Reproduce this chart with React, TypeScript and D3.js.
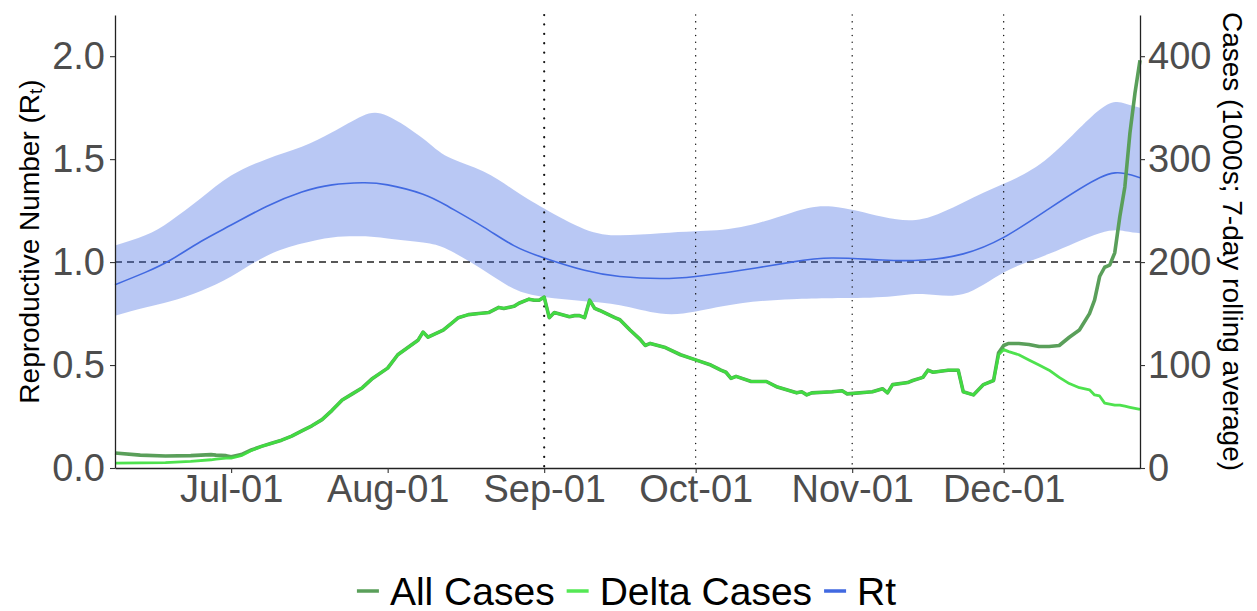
import React, { useEffect, useRef } from "react";
import * as d3 from "d3";

// Rt estimate (mean + credible interval)
const rtDates = ["2021-06-08","2021-06-14","2021-06-19","2021-06-25","2021-07-01","2021-07-08","2021-07-15","2021-07-21","2021-07-27","2021-08-01","2021-08-08","2021-08-13","2021-08-20","2021-08-26","2021-09-01","2021-09-09","2021-09-16","2021-09-24","2021-10-01","2021-10-10","2021-10-20","2021-10-28","2021-11-07","2021-11-15","2021-11-23","2021-12-01","2021-12-10","2021-12-20","2021-12-25","2021-12-28"];
const rtMean = [0.89,0.95,1.01,1.1,1.18,1.27,1.34,1.375,1.385,1.375,1.33,1.27,1.17,1.08,1.02,0.96,0.93,0.92,0.93,0.96,1.0,1.02,1.01,1.01,1.04,1.12,1.26,1.41,1.43,1.41];
const rtLower = [0.74,0.78,0.81,0.86,0.93,1.03,1.09,1.12,1.125,1.115,1.095,1.06,0.96,0.87,0.83,0.81,0.79,0.75,0.76,0.8,0.82,0.825,0.83,0.845,0.845,0.95,1.04,1.14,1.15,1.14];
const rtUpper = [1.08,1.13,1.2,1.31,1.42,1.5,1.56,1.63,1.71,1.71,1.6,1.51,1.44,1.35,1.26,1.16,1.13,1.14,1.15,1.17,1.24,1.27,1.22,1.21,1.29,1.38,1.51,1.74,1.77,1.75];

// cases, 1000s, 7-day rolling average
const caseDates = ["2021-06-08","2021-06-13","2021-06-18","2021-06-23","2021-06-27","2021-06-28","2021-06-30","2021-07-01","2021-07-03","2021-07-05","2021-07-07","2021-07-09","2021-07-11","2021-07-13","2021-07-15","2021-07-17","2021-07-19","2021-07-21","2021-07-23","2021-07-25","2021-07-27","2021-07-29","2021-08-01","2021-08-03","2021-08-05","2021-08-07","2021-08-08","2021-08-09","2021-08-12","2021-08-14","2021-08-15","2021-08-17","2021-08-19","2021-08-21","2021-08-23","2021-08-24","2021-08-26","2021-08-27","2021-08-29","2021-08-30","2021-08-31","2021-09-01","2021-09-02","2021-09-03","2021-09-06","2021-09-07","2021-09-08","2021-09-09","2021-09-10","2021-09-11","2021-09-12","2021-09-15","2021-09-16","2021-09-18","2021-09-20","2021-09-21","2021-09-22","2021-09-25","2021-09-28","2021-10-01","2021-10-04","2021-10-06","2021-10-07","2021-10-08","2021-10-09","2021-10-12","2021-10-15","2021-10-17","2021-10-21","2021-10-22","2021-10-23","2021-10-24","2021-10-28","2021-10-30","2021-10-31","2021-11-05","2021-11-07","2021-11-08","2021-11-09","2021-11-12","2021-11-13","2021-11-15","2021-11-16","2021-11-17","2021-11-20","2021-11-22","2021-11-23","2021-11-25","2021-11-27","2021-11-29","2021-11-30","2021-12-01","2021-12-02","2021-12-04","2021-12-06","2021-12-08","2021-12-10","2021-12-12","2021-12-14","2021-12-16","2021-12-18","2021-12-19","2021-12-20","2021-12-21","2021-12-22","2021-12-23","2021-12-24","2021-12-25","2021-12-26","2021-12-27","2021-12-28"];
const allCases = [14.6,12.5,11.7,12,13,12.5,12,11,13,17.5,21,24,27,31,36,41,47,56,66,72,78,87,97,110,117,124,132,127,134,142,146,149,150,151,156,155,157,160,164,163,163,166,146,151,147,148,148,146,163,155,153,146,144,134,125,119,121,117,110,105,100,95,93,87,89,84,84,79,73,74,71,73,74,75,72,74,77,73,81,83,85,88,95,93,95,95,74,71,81,85,112,119,121,121,120,118,118,119,127,134,150,163,186,195,197,209,244,273,325,364,396];
const deltaCases = [4.8,5,5.2,6.5,8,8.7,9.5,9.7,12,17,21,24,27,31,36,41,47,56,66,72,78,87,97,110,117,124,132,127,134,142,146,149,150,151,156,155,157,160,164,163,163,166,146,151,147,148,148,146,163,155,153,146,144,134,125,119,121,117,110,105,100,95,93,87,89,84,84,79,73,74,71,73,74,75,72,74,77,73,81,83,85,88,95,93,95,95,74,71,81,85,110,115,113,110,105,100,95,88,82,78,76,71,70,63,62,61,61,60,59,58,57];

const monthTicks = ["2021-07-01","2021-08-01","2021-09-01","2021-10-01","2021-11-01","2021-12-01"];
const dottedMonths = ["2021-09-01","2021-10-01","2021-11-01","2021-12-01"];
const rtTicks = [0, 0.5, 1, 1.5, 2];
const caseTicks = [0, 100, 200, 300, 400];
const legendItems = [
  { label: "All Cases", color: "#5a9f5a" },
  { label: "Delta Cases", color: "#55e855" },
  { label: "Rt", color: "#4169e1" },
];

const FONT = "'Liberation Sans', Arial, Helvetica, sans-serif";

export default function App() {
  const ref = useRef<SVGSVGElement>(null);

  useEffect(() => {
    const svg = d3.select(ref.current);
    svg.selectAll("*").remove();
    svg.style("font-family", FONT);

    const W = 1257, H = 611;
    const margin = { top: 15, right: 117, bottom: 143, left: 115 };
    const innerW = W - margin.left - margin.right;
    const innerH = H - margin.top - margin.bottom;
    const parse = d3.timeParse("%Y-%m-%d");

    const x = d3.scaleTime()
      .domain([parse("2021-06-08")!, parse("2021-12-28")!])
      .range([0, innerW]);
    const y = d3.scaleLinear().domain([0, 2.2]).range([innerH, 0]);
    const yCases = d3.scaleLinear().domain([0, 440]).range([innerH, 0]);

    const g = svg.append("g").attr("transform", `translate(${margin.left},${margin.top})`);

    // dashed Rt = 1 reference
    g.append("line")
      .attr("x1", 0).attr("x2", innerW)
      .attr("y1", y(1)).attr("y2", y(1))
      .attr("stroke", "#222").attr("stroke-width", 1.5)
      .attr("stroke-dasharray", "7,5");

    const rt = rtDates.map((d, i) => ({ date: parse(d)!, mean: rtMean[i], lo: rtLower[i], hi: rtUpper[i] }));

    g.append("path")
      .datum(rt)
      .attr("fill", "#4169e1")
      .attr("fill-opacity", 0.37)
      .attr("d", d3.area<any>()
        .x(d => x(d.date))
        .y0(d => y(d.lo))
        .y1(d => y(d.hi))
        .curve(d3.curveNatural));

    g.append("path")
      .datum(rt)
      .attr("fill", "none")
      .attr("stroke", "#4169e1")
      .attr("stroke-width", 1.6)
      .attr("d", d3.line<any>()
        .x(d => x(d.date))
        .y(d => y(d.mean))
        .curve(d3.curveNatural));

    // vertical dotted month lines
    dottedMonths.forEach((m, i) => {
      const heavy = i === 0;
      g.append("line")
        .attr("x1", x(parse(m)!)).attr("x2", x(parse(m)!))
        .attr("y1", 0).attr("y2", innerH)
        .attr("stroke", "#111")
        .attr("stroke-width", heavy ? 2.2 : 1.4)
        .attr("stroke-linecap", "round")
        .attr("stroke-dasharray", heavy ? "0.1,9.3" : "0.1,6.7");
    });

    const cases = caseDates.map((d, i) => ({ date: parse(d)!, all: allCases[i], delta: deltaCases[i] }));

    g.append("path")
      .datum(cases)
      .attr("fill", "none")
      .attr("stroke", "#5a9f5a")
      .attr("stroke-width", 3.6)
      .attr("stroke-linejoin", "round")
      .attr("d", d3.line<any>().x(d => x(d.date)).y(d => yCases(d.all)));

    g.append("path")
      .datum(cases)
      .attr("fill", "none")
      .attr("stroke", "#3fe03f")
      .attr("stroke-opacity", 0.92)
      .attr("stroke-width", 2.8)
      .attr("stroke-linejoin", "round")
      .attr("d", d3.line<any>().x(d => x(d.date)).y(d => yCases(d.delta)));

    // axes
    const styleAxis = (sel: any, size: number) => {
      sel.select(".domain").attr("stroke", "#222").attr("stroke-width", 1.3);
      sel.selectAll(".tick line").attr("stroke", "#333").attr("stroke-width", 1.1);
      sel.selectAll(".tick text")
        .attr("fill", "#4d4d4d")
        .style("font-size", size + "px")
        .style("font-family", FONT);
    };

    const left = g.append("g")
      .call(d3.axisLeft(y).tickValues(rtTicks).tickFormat(d3.format(".1f")).tickSize(5).tickSizeOuter(0).tickPadding(5));
    styleAxis(left, 38);

    const right = g.append("g")
      .attr("transform", `translate(${innerW},0)`)
      .call(d3.axisRight(yCases).tickValues(caseTicks).tickSize(5).tickSizeOuter(0).tickPadding(3));
    styleAxis(right, 38);

    const bottom = g.append("g")
      .attr("transform", `translate(0,${innerH})`)
      .call(d3.axisBottom(x).tickValues(monthTicks.map(m => parse(m)!))
        .tickFormat(d3.timeFormat("%b-%d") as any).tickSize(5).tickSizeOuter(0).tickPadding(2));
    styleAxis(bottom, 38);

    // axis titles
    const lt = svg.append("text")
      .attr("transform", `translate(29,${margin.top + innerH / 2}) rotate(-90)`)
      .attr("text-anchor", "middle")
      .attr("dominant-baseline", "central")
      .style("font-size", "28px")
      .attr("fill", "#000");
    lt.append("tspan").text("Reproductive Number (R");
    lt.append("tspan").text("t").style("font-size", "19px").attr("dy", "6");
    lt.append("tspan").text(")").attr("dy", "-6");

    svg.append("text")
      .attr("transform", `translate(1232,${margin.top + innerH / 2}) rotate(90)`)
      .attr("text-anchor", "middle")
      .attr("dominant-baseline", "central")
      .style("font-size", "28px")
      .attr("fill", "#000")
      .text("Cases (1000s; 7-day rolling average)");

    // legend, centred under the figure
    const legend = svg.append("g");
    let cx = 0;
    legendItems.forEach(item => {
      legend.append("line")
        .attr("x1", cx).attr("x2", cx + 22)
        .attr("y1", 0).attr("y2", 0)
        .attr("stroke", item.color).attr("stroke-width", 3.5);
      const t = legend.append("text")
        .attr("x", cx + 33).attr("y", 0)
        .attr("dominant-baseline", "central")
        .style("font-size", "39px")
        .attr("fill", "#000")
        .text(item.label);
      const w = (t.node() as SVGTextElement).getComputedTextLength();
      cx += 33 + w + 12;
    });
    const total = cx - 12;
    legend.attr("transform", `translate(${W / 2 - 2 - total / 2},591)`);
  }, []);

  return (
    <svg
      ref={ref}
      width={1257}
      height={611}
      style={{ position: "absolute", left: 0, top: 0, background: "#fff" }}
    />
  );
}
